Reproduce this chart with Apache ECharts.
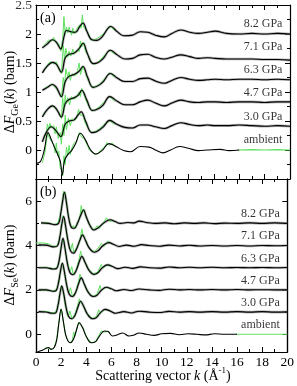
<!DOCTYPE html>
<html><head><meta charset="utf-8">
<script src="https://cdn.jsdelivr.net/npm/echarts@6/dist/echarts.min.js"></script>
<style>html,body{margin:0;padding:0;background:#fff}#c{width:297px;height:386px}</style>
</head><body><div id="c"></div><script>
// ---------- DATA ----------
const pressureLabels = ['ambient', '3.0 GPa', '4.7 GPa', '6.3 GPa', '7.1 GPa', '8.2 GPa'];
const offsetsGe = [0, 0.4, 0.8, 1.2, 1.6, 2.0];
const offsetsSe = [0, 1, 2, 3, 4, 5];
const xTicks = [0, 2, 4, 6, 8, 10, 12, 14, 16, 18, 20];
const yTicksGe = [0, 0.5, 1, 1.5, 2];
const yTopLabelGe = 2.5;
const yTicksSe = [0, 2, 4, 6];
const yMinorSe = [1, 3, 5, 7];

// (a) Ge partial: fitted curves (relative to offset), [k, dF]
const fitGeAmb = [[0,-0.23],[0.35,-0.2],[0.65,0.0],[0.95,0.3],[1.2,0.18],[1.45,0.05],[1.75,-0.1],[1.92,-0.2],[2.07,-0.43],[2.25,-0.18],[2.5,-0.08],[2.8,-0.01],[3.12,0.11],[3.5,0.29],[3.9,0.17],[4.3,0.0],[4.7,-0.07],[5.2,-0.01],[5.75,0.11],[6.3,0.06],[6.9,-0.01],[7.45,-0.03],[8.2,0.06],[8.9,0.05],[9.5,-0.01],[10.0,-0.05],[10.6,0.0],[11.3,0.06],[12.0,0.03],[12.8,-0.01],[13.5,0.0],[14.5,0.01],[15.2,-0.01],[16.0,0.0]];
const fitGe30 = [[0.5,-0.26],[0.8,-0.1],[1.2,0.0],[1.55,-0.06],[1.95,-0.17],[2.3,0.05],[2.6,0.1],[3.0,0.12],[3.3,0.2],[3.55,0.26],[3.9,0.1],[4.4,-0.1],[4.8,-0.08],[5.3,0.0],[5.8,0.11],[6.4,0.04],[7.0,-0.01],[7.6,-0.02],[8.2,0.03],[8.8,0.03],[9.4,0.0],[10.1,-0.03],[10.7,0.02],[11.4,0.07],[12.1,0.04],[12.8,0.02],[13.5,0.03],[14.1,0.02],[15,0.02],[16,0.03],[17,0.02],[18,0.01],[19,0.02],[20,0.01]];
const fitGe47 = [[0.5,-0.23],[0.9,-0.1],[1.3,-0.04],[1.6,-0.09],[2.0,-0.23],[2.3,0.0],[2.6,0.07],[3.0,0.1],[3.35,0.15],[3.6,0.23],[4.0,0.06],[4.45,-0.12],[4.9,-0.09],[5.3,-0.02],[5.8,0.12],[6.4,0.04],[7.0,-0.02],[7.6,-0.02],[8.2,0.03],[8.8,0.06],[9.4,0.01],[10.1,-0.04],[10.7,0.01],[11.4,0.06],[12.1,0.03],[12.8,0.02],[13.5,0.03],[14.1,0.03],[15,0.02],[16,0.03],[17,0.03],[18,0.02],[19,0.03],[20,0.03]];
const fitGe63 = [[0.5,-0.17],[0.9,-0.12],[1.3,-0.07],[1.6,-0.12],[2.0,-0.28],[2.3,-0.02],[2.6,0.07],[3.0,0.1],[3.4,0.16],[3.7,0.24],[4.05,0.06],[4.5,-0.12],[4.9,-0.09],[5.3,-0.02],[5.85,0.12],[6.4,0.04],[7.0,-0.02],[7.6,-0.02],[8.2,0.03],[8.8,0.04],[9.4,-0.01],[10.1,-0.05],[10.7,0.0],[11.4,0.05],[12.1,0.02],[12.8,0.0],[13.5,0.01],[14.1,0.02],[15,0.01],[16,0.02],[17,0.02],[18,0.01],[19,0.02],[20,0.01]];
const fitGe71 = [[0.5,-0.27],[0.9,-0.15],[1.3,-0.09],[1.6,-0.12],[2.0,-0.26],[2.3,-0.01],[2.6,0.05],[3.0,0.07],[3.4,0.15],[3.7,0.24],[4.05,0.06],[4.5,-0.11],[4.9,-0.09],[5.3,-0.02],[5.85,0.12],[6.4,0.04],[7.0,-0.03],[7.6,-0.02],[8.2,0.04],[8.8,0.05],[9.4,0.0],[10.1,-0.03],[10.7,0.0],[11.4,0.04],[12.1,0.01],[12.8,-0.02],[13.5,-0.01],[14.1,-0.02],[15,-0.03],[16,-0.03],[17,-0.03],[18,-0.04],[19,-0.04],[20,-0.05]];
const fitGe82 = [[0.5,-0.24],[0.9,-0.17],[1.3,-0.1],[1.6,-0.14],[1.95,-0.26],[2.2,-0.05],[2.4,0.06],[2.75,0.04],[3.1,0.03],[3.45,0.13],[3.7,0.19],[4.0,0.05],[4.4,-0.1],[4.8,-0.11],[5.2,-0.05],[5.9,0.13],[6.4,0.04],[6.9,-0.03],[7.6,-0.02],[8.2,0.04],[8.8,0.03],[9.4,-0.02],[10.1,-0.05],[10.7,0.01],[11.4,0.07],[12.1,0.03],[12.8,0.01],[13.5,0.03],[14.1,0.05],[15.0,0.01],[16,0.0],[17,0.01],[18,0.0],[19,0.01],[20,0.0]];

// (a) green (low-k) data, relative to offset
const grnGeAmb = [[0.5,-0.22],[0.7,-0.05],[0.9,0.28],[1.0,0.25],[1.2,0.15],[1.4,0.1],[1.5,-0.05],[1.6,0.12],[1.7,-0.1],[1.8,-0.02],[1.9,-0.3],[2.0,-0.35],[2.1,-0.45],[2.2,-0.1],[2.3,-0.25],[2.4,0.05],[2.5,-0.1],[2.6,0.08],[2.7,-0.08],[2.8,0.02],[3.0,0.12],[3.2,0.15],[3.4,0.3],[3.6,0.22],[3.8,0.2],[4.0,0.1],[4.2,0.0],[4.5,-0.05],[4.8,-0.08],[5.1,0.0],[5.4,0.05],[5.6,0.13],[5.8,0.08],[6.0,0.12],[6.3,0.04]];
const grnGeAmbHi = [[15.9,0.0],[17,0.005],[18,0.0],[19,0.005],[20,0.0]];
const grnGe30 = [[0.6,-0.22],[0.8,-0.1],[0.9,0.05],[1.0,-0.05],[1.1,0.06],[1.2,-0.02],[1.4,0.02],[1.5,-0.12],[1.6,0.0],[1.75,-0.2],[1.9,-0.1],[2.0,-0.3],[2.1,0.05],[2.2,-0.15],[2.3,0.2],[2.4,-0.05],[2.55,0.15],[2.7,0.02],[2.85,0.14],[3.0,0.1],[3.2,0.15],[3.35,0.3],[3.5,0.2],[3.7,0.2],[3.9,0.05],[4.1,-0.02],[4.4,-0.1],[4.7,-0.08],[5.0,-0.03],[5.4,0.05],[5.8,0.1],[6.2,0.04]];
const grnGe47 = [[0.6,-0.2],[0.8,-0.12],[1.0,-0.08],[1.2,-0.03],[1.4,-0.06],[1.6,-0.1],[1.8,-0.14],[2.0,-0.26],[2.1,0.1],[2.2,-0.12],[2.3,0.15],[2.4,0.0],[2.5,0.1],[2.65,-0.02],[2.8,0.12],[3.0,0.08],[3.2,0.1],[3.35,0.2],[3.5,0.12],[3.6,0.26],[3.8,0.15],[4.0,0.02],[4.3,-0.1],[4.6,-0.12],[5.0,-0.05],[5.4,0.04],[5.8,0.12],[6.2,0.04]];
const grnGe63 = [[0.6,-0.15],[0.8,-0.12],[1.0,-0.1],[1.2,-0.06],[1.4,-0.1],[1.6,-0.14],[1.8,-0.2],[2.0,-0.3],[2.15,0.05],[2.25,-0.1],[2.35,0.2],[2.5,0.05],[2.6,0.15],[2.7,0.0],[2.85,0.12],[3.0,0.08],[3.2,0.1],[3.4,0.3],[3.5,0.1],[3.7,0.25],[3.9,0.12],[4.1,0.0],[4.4,-0.12],[4.7,-0.1],[5.0,-0.07],[5.4,0.03],[5.8,0.13],[6.2,0.05]];
const grnGe71 = [[0.6,-0.24],[0.8,-0.18],[1.0,-0.1],[1.2,-0.08],[1.4,-0.12],[1.6,-0.08],[1.8,-0.2],[2.0,-0.28],[2.15,0.2],[2.25,-0.05],[2.35,0.15],[2.5,0.0],[2.6,0.1],[2.75,0.02],[2.9,0.14],[3.0,0.05],[3.2,0.12],[3.4,0.1],[3.5,0.28],[3.6,0.18],[3.75,0.26],[3.9,0.1],[4.1,0.04],[4.4,-0.1],[4.7,-0.12],[5.0,-0.06],[5.4,0.04],[5.8,0.12],[6.2,0.05]];
const grnGe82 = [[0.6,-0.2],[0.8,-0.16],[1.0,-0.1],[1.2,-0.13],[1.4,-0.06],[1.6,-0.16],[1.8,-0.17],[1.95,-0.3],[2.1,-0.1],[2.2,0.3],[2.3,0.0],[2.4,0.12],[2.5,0.02],[2.6,0.12],[2.8,-0.02],[2.9,0.1],[3.0,0.0],[3.2,0.08],[3.4,0.15],[3.55,0.1],[3.65,0.33],[3.75,0.12],[3.9,0.1],[4.1,0.02],[4.3,-0.1],[4.6,-0.1],[5.0,-0.05],[5.4,0.02],[5.8,0.14],[6.2,0.06]];

// (b) Se partial: fitted curves (relative to offset)
const fitSeAmb = [[0.1,-0.8],[0.5,-0.72],[0.85,-0.62],[1.0,-0.6],[1.2,-0.68],[1.45,-0.6],[1.65,-0.25],[1.82,0.5],[2.0,1.12],[2.17,0.6],[2.35,0.0],[2.55,-0.3],[2.75,-0.38],[3.0,-0.2],[3.25,0.25],[3.45,0.52],[3.7,0.3],[4.0,-0.1],[4.4,-0.38],[4.75,-0.33],[5.05,-0.08],[5.45,0.15],[5.75,0.12],[6.1,-0.08],[6.5,-0.02],[6.9,0.06],[7.4,-0.08],[7.8,-0.03],[8.2,0.06],[8.8,0.0],[9.4,-0.05],[10.0,0.02],[10.7,0.04],[11.4,-0.02],[12.1,0.02],[12.8,0.0],[13.5,-0.03],[14.2,0.02],[15.0,0.0],[16.0,0.0]];
const fitSe30 = [[0.2,0.02],[0.8,0.0],[1.3,-0.05],[1.55,-0.04],[1.75,0.3],[1.9,0.8],[2.05,1.17],[2.2,0.85],[2.4,0.2],[2.6,-0.2],[2.85,-0.3],[3.1,-0.15],[3.35,0.25],[3.55,0.49],[3.8,0.25],[4.1,-0.1],[4.5,-0.3],[4.8,-0.25],[5.1,-0.05],[5.5,0.12],[5.9,0.05],[6.3,-0.05],[7.0,0.02],[7.6,-0.04],[8.2,0.04],[9.0,0.0],[9.8,-0.02],[10.6,0.03],[11.4,0.0],[12.2,0.02],[13.0,0.0],[14,0.02],[15,0.0],[16,0.02],[17,0.0],[18,0.02],[19,0.0],[20,0.01]];
const fitSe47 = [[0.2,0.0],[0.8,0.0],[1.35,-0.06],[1.6,-0.03],[1.8,0.35],[1.95,0.85],[2.1,1.2],[2.25,0.85],[2.45,0.2],[2.65,-0.2],[2.9,-0.3],[3.15,-0.12],[3.4,0.3],[3.6,0.54],[3.85,0.25],[4.15,-0.1],[4.55,-0.3],[4.85,-0.24],[5.2,-0.02],[5.6,0.12],[6.0,0.05],[6.4,-0.04],[7.0,0.02],[7.6,-0.03],[8.2,0.04],[9.0,0.0],[9.8,-0.02],[10.6,0.03],[11.4,0.0],[12.2,0.02],[13,0.0],[14,0.02],[15,0.0],[16,0.02],[17,0.0],[18,0.01],[19,0.0],[20,0.01]];
const fitSe63 = [[0.2,0.0],[0.8,0.0],[1.4,-0.06],[1.65,-0.03],[1.85,0.35],[2.0,0.9],[2.15,1.33],[2.3,0.9],[2.5,0.2],[2.7,-0.22],[2.95,-0.32],[3.2,-0.12],[3.45,0.28],[3.65,0.51],[3.9,0.25],[4.2,-0.1],[4.6,-0.3],[4.9,-0.24],[5.25,-0.02],[5.7,0.13],[6.1,0.05],[6.5,-0.04],[7.1,0.02],[7.7,-0.03],[8.3,0.04],[9,0.0],[9.8,-0.02],[10.6,0.03],[11.4,0.0],[12.2,0.02],[13,0.0],[14,0.02],[15,0.0],[16,0.01],[17,0.0],[18,0.01],[19,0.0],[20,0.01]];
const fitSe71 = [[0.2,0.03],[0.8,0.02],[1.4,-0.06],[1.7,-0.02],[1.9,0.4],[2.05,0.95],[2.2,1.31],[2.35,0.9],[2.55,0.2],[2.75,-0.24],[3.0,-0.34],[3.25,-0.12],[3.5,0.25],[3.7,0.48],[3.95,0.22],[4.25,-0.12],[4.65,-0.3],[4.95,-0.23],[5.3,-0.02],[5.8,0.13],[6.2,0.05],[6.6,-0.04],[7.2,0.02],[7.8,-0.03],[8.4,0.04],[9,0.0],[9.8,-0.03],[10.6,0.02],[11.4,-0.02],[12.2,0.01],[13,-0.02],[14,0.0],[15,-0.02],[16,0.0],[17,-0.02],[18,0.0],[19,-0.01],[20,0.0]];
const fitSe82 = [[0.4,0.02],[1.0,0.0],[1.5,-0.06],[1.8,0.0],[1.97,0.45],[2.12,1.0],[2.26,1.4],[2.42,0.95],[2.62,0.2],[2.85,-0.2],[3.05,-0.22],[3.3,0.0],[3.55,0.35],[3.78,0.6],[4.0,0.3],[4.3,-0.1],[4.6,-0.3],[5.0,-0.18],[5.4,0.02],[5.9,0.16],[6.3,0.08],[6.7,0.0],[7.3,0.04],[7.8,0.02],[8.2,0.1],[8.8,0.04],[9.5,0.0],[10.3,0.02],[11,-0.02],[11.8,0.02],[12.6,0.0],[13.4,0.02],[14.2,-0.01],[15,0.01],[16,0.0],[17,0.02],[18,0.0],[19,0.02],[20,0.0]];

// (b) green data, relative to offset
const grnSeAmb = [[0.5,-0.72],[0.85,-0.6],[1.2,-0.68],[1.45,-0.6],[1.65,-0.2],[1.8,0.5],[1.97,1.15],[2.05,1.0],[2.17,0.6],[2.35,0.0],[2.55,-0.3],[2.7,-0.4],[2.9,-0.25],[3.0,0.1],[3.1,-0.1],[3.25,0.25],[3.4,0.55],[3.5,0.45],[3.6,0.4],[3.75,0.3],[4.0,-0.1],[4.4,-0.38],[4.75,-0.33],[5.0,-0.05],[5.2,0.15],[5.4,0.1],[5.7,0.12],[6.0,-0.05]];
const grnSeAmbHi = [[15.9,0.0],[20,0.0]];
const grnSe30 = [[0.3,0.02],[0.9,0.02],[1.3,-0.04],[1.55,-0.02],[1.75,0.3],[1.9,0.85],[2.03,1.2],[2.12,1.0],[2.2,0.85],[2.35,0.25],[2.55,-0.2],[2.7,0.05],[2.85,-0.3],[3.1,-0.1],[3.3,0.25],[3.45,0.6],[3.55,0.45],[3.8,0.25],[4.1,-0.08],[4.5,-0.3],[4.8,-0.2],[5.0,0.1],[5.1,-0.05],[5.5,0.12],[5.9,0.05]];
const grnSe47 = [[0.3,0.0],[0.9,0.0],[1.35,-0.05],[1.6,0.0],[1.8,0.3],[1.95,0.9],[2.08,1.22],[2.18,1.05],[2.25,0.85],[2.4,0.3],[2.6,-0.15],[2.75,0.1],[2.9,-0.3],[3.15,-0.1],[3.35,0.3],[3.5,0.7],[3.6,0.55],[3.85,0.25],[4.15,-0.08],[4.5,-0.3],[4.85,-0.2],[5.1,0.2],[5.2,-0.02],[5.6,0.12],[6.0,0.05]];
const grnSe63 = [[0.3,0.0],[0.9,0.02],[1.4,-0.06],[1.65,0.0],[1.85,0.3],[2.0,0.95],[2.12,1.3],[2.2,1.2],[2.3,0.95],[2.45,0.35],[2.7,-0.2],[2.85,0.05],[2.95,-0.3],[3.2,-0.1],[3.4,0.3],[3.55,0.75],[3.65,0.5],[3.9,0.25],[4.2,-0.08],[4.6,-0.28],[4.9,-0.2],[5.2,0.15],[5.3,-0.02],[5.7,0.13],[6.1,0.05]];
const grnSe71 = [[0.0,0.12],[0.5,0.12],[1.0,0.08],[1.4,-0.05],[1.7,0.0],[1.9,0.35],[2.05,0.9],[2.15,1.35],[2.25,1.2],[2.35,0.85],[2.5,0.3],[2.75,-0.22],[2.9,0.1],[3.0,-0.3],[3.3,-0.05],[3.5,0.25],[3.65,0.75],[3.75,0.45],[3.95,0.25],[4.2,-0.1],[4.6,-0.28],[4.9,-0.15],[5.2,0.1],[5.4,-0.05],[5.7,0.2],[6.1,0.05]];
const grnSe82 = [[0.5,0.03],[1.0,0.02],[1.4,-0.05],[1.7,-0.02],[1.9,0.3],[2.05,0.8],[2.2,1.45],[2.26,1.3],[2.32,1.42],[2.45,0.85],[2.6,0.25],[2.8,-0.18],[3.0,-0.1],[3.1,-0.25],[3.3,0.05],[3.5,0.3],[3.6,0.8],[3.7,0.5],[3.8,0.65],[4.0,0.25],[4.3,-0.08],[4.6,-0.28],[4.9,-0.1],[5.0,-0.25],[5.4,0.05],[5.6,0.25],[5.8,0.1],[6.2,0.1]];

const fitsGe = [fitGeAmb, fitGe30, fitGe47, fitGe63, fitGe71, fitGe82];
const grnsGe = [grnGeAmb, grnGe30, grnGe47, grnGe63, grnGe71, grnGe82];
const fitsSe = [fitSeAmb, fitSe30, fitSe47, fitSe63, fitSe71, fitSe82];
const grnsSe = [grnSeAmb, grnSe30, grnSe47, grnSe63, grnSe71, grnSe82];

// ---------- CHART ----------
const FONT = 'Liberation Serif';
const BLACK = '#000', GRAY = '#8c8c8c', GREEN = '#5fe05f';
const shift = (arr, off) => arr.map(p => [p[0], p[1] + off]);

function xAxis(grid, pos, showLabel) {
  return {
    type: 'value', gridIndex: grid, position: pos, min: 0, max: 20, interval: 2,
    axisLine: { show: true, onZero: false, lineStyle: { color: BLACK, width: 1.2 } },
    axisTick: { show: true, inside: true, length: 5, lineStyle: { color: BLACK, width: 1 } },
    minorTick: { show: true, splitNumber: 2, length: 3, lineStyle: { color: BLACK, width: 1 } },
    axisLabel: { show: showLabel, color: BLACK, fontFamily: FONT, fontSize: 13.5, margin: 3,
      customValues: xTicks, showMaxLabel: true, showMinLabel: true },
    splitLine: { show: false }, minorSplitLine: { show: false }
  };
}
function yAxisGe(pos, showLabel) {
  return {
    type: 'value', gridIndex: 0, position: pos, min: -0.5, max: 2.5, interval: 0.5,
    axisLine: { show: true, onZero: false, lineStyle: { color: BLACK, width: 1.2 } },
    axisTick: { show: true, inside: true, length: 5, lineStyle: { color: BLACK } },
    minorTick: { show: true, splitNumber: 2, length: 3, lineStyle: { color: BLACK } },
    axisLabel: { show: showLabel, color: BLACK, fontFamily: FONT, fontSize: 13.5, margin: 4,
      customValues: yTicksGe },
    splitLine: { show: false }, minorSplitLine: { show: false }
  };
}
function yAxisSe(pos, showLabel, ticks, len) {
  return {
    type: 'value', gridIndex: 1, position: pos, min: -0.8, max: 7,
    axisLine: { show: true, onZero: false, lineStyle: { color: BLACK, width: 1.2 } },
    axisTick: { show: true, inside: true, length: len, customValues: ticks, lineStyle: { color: BLACK } },
    axisLabel: { show: showLabel, color: BLACK, fontFamily: FONT, fontSize: 13.5, margin: 4,
      customValues: yTicksSe },
    splitLine: { show: false }
  };
}

const series = [];
function addPanel(fits, grns, offs, xi, yi, extraGreen, labelDy) {
  fits.forEach((f, i) => {
    if (i > 0) series.push({ type: 'line', xAxisIndex: xi, yAxisIndex: yi, data: shift(f, offs[i]),
      showSymbol: false, smooth: 0.4, lineStyle: { color: GRAY, width: 2.6, opacity: 0.65 }, z: 1, silent: true });
    series.push({ type: 'line', xAxisIndex: xi, yAxisIndex: yi, data: shift(grns[i], offs[i]),
      showSymbol: false, smooth: false, lineStyle: { color: GREEN, width: 1 }, z: 2, silent: true });
    series.push({ type: 'line', xAxisIndex: xi, yAxisIndex: yi, data: shift(f, offs[i]),
      showSymbol: false, smooth: 0.4, lineStyle: { color: BLACK, width: 1.1 }, z: 3, silent: true });
  });
  series.push({ type: 'line', xAxisIndex: xi, yAxisIndex: yi, data: shift(extraGreen, offs[0]),
    showSymbol: false, lineStyle: { color: GREEN, width: 1.2 }, z: 2, silent: true });
  series.push({ type: 'scatter', xAxisIndex: xi, yAxisIndex: yi, symbolSize: 0, silent: true, z: 5,
    data: offs.map((o, i) => [19.4, o + labelDy, pressureLabels[i]]),
    label: { show: true, position: 'left', distance: 0, formatter: p => p.data[2],
      color: BLACK, fontFamily: FONT, fontSize: 12 } });
}
addPanel(fitsGe, grnsGe, offsetsGe, 0, 0, grnGeAmbHi, 0.18);
addPanel(fitsSe, grnsSe, offsetsSe, 2, 2, grnSeAmbHi, 0.42);

// label for the top tick (2.5) of panel (a), sitting at the frame's upper edge
series.push({ type: 'scatter', xAxisIndex: 0, yAxisIndex: 0, symbolSize: 0, silent: true, z: 5,
  data: [[0, yTopLabelGe]],
  label: { show: true, position: 'left', distance: 4, formatter: () => String(yTopLabelGe),
    color: BLACK, fontFamily: FONT, fontSize: 13.5 } });

const chart = echarts.init(document.getElementById('c'), null, { renderer: 'canvas' });
chart.setOption({
  animation: false,
  backgroundColor: '#fff',
  grid: [
    { left: 36, right: 7, top: 5, height: 174 },
    { left: 36, right: 7, top: 179, height: 173 }
  ],
  xAxis: [xAxis(0, 'bottom', false), xAxis(0, 'top', false), xAxis(1, 'bottom', true), xAxis(1, 'top', false)],
  yAxis: [yAxisGe('left', true), yAxisGe('right', false),
    yAxisSe('left', true, yTicksSe, 5), yAxisSe('right', false, yTicksSe, 5),
    yAxisSe('left', false, yMinorSe, 3), yAxisSe('right', false, yMinorSe, 3)],
  series: series,
  graphic: [
    { type: 'text', left: 40, top: 11, style: { text: '(a)', font: '14px "Liberation Serif"', fill: BLACK } },
    { type: 'text', left: 40, top: 185, style: { text: '(b)', font: '14px "Liberation Serif"', fill: BLACK } },
    { type: 'text', x: 10, y: 92, rotation: Math.PI / 2,
      style: { text: '{n|Δ}{i|F}{s|Ge}{n|(}{i|k}{n|) (barn)}', align: 'center', verticalAlign: 'middle', fill: BLACK,
        rich: { n: { fontFamily: FONT, fontSize: 14, lineHeight: 16 }, i: { fontFamily: FONT, fontSize: 14, fontStyle: 'italic', lineHeight: 16 },
          s: { fontFamily: FONT, fontSize: 10, lineHeight: 21, verticalAlign: 'bottom' } } } },
    { type: 'text', x: 10, y: 265, rotation: Math.PI / 2,
      style: { text: '{n|Δ}{i|F}{s|Se}{n|(}{i|k}{n|) (barn)}', align: 'center', verticalAlign: 'middle', fill: BLACK,
        rich: { n: { fontFamily: FONT, fontSize: 14, lineHeight: 16 }, i: { fontFamily: FONT, fontSize: 14, fontStyle: 'italic', lineHeight: 16 },
          s: { fontFamily: FONT, fontSize: 10, lineHeight: 21, verticalAlign: 'bottom' } } } },
    { type: 'text', x: 163, y: 376,
      style: { text: '{n|Scattering vector }{i|k}{n| (Å}{p|-1}{n|)}', align: 'center', verticalAlign: 'middle', fill: BLACK,
        rich: { n: { fontFamily: FONT, fontSize: 14, lineHeight: 16 }, i: { fontFamily: FONT, fontSize: 14, fontStyle: 'italic', lineHeight: 16 },
          p: { fontFamily: FONT, fontSize: 9, lineHeight: 20, verticalAlign: 'top' } } } }
  ]
});
</script></body></html>
